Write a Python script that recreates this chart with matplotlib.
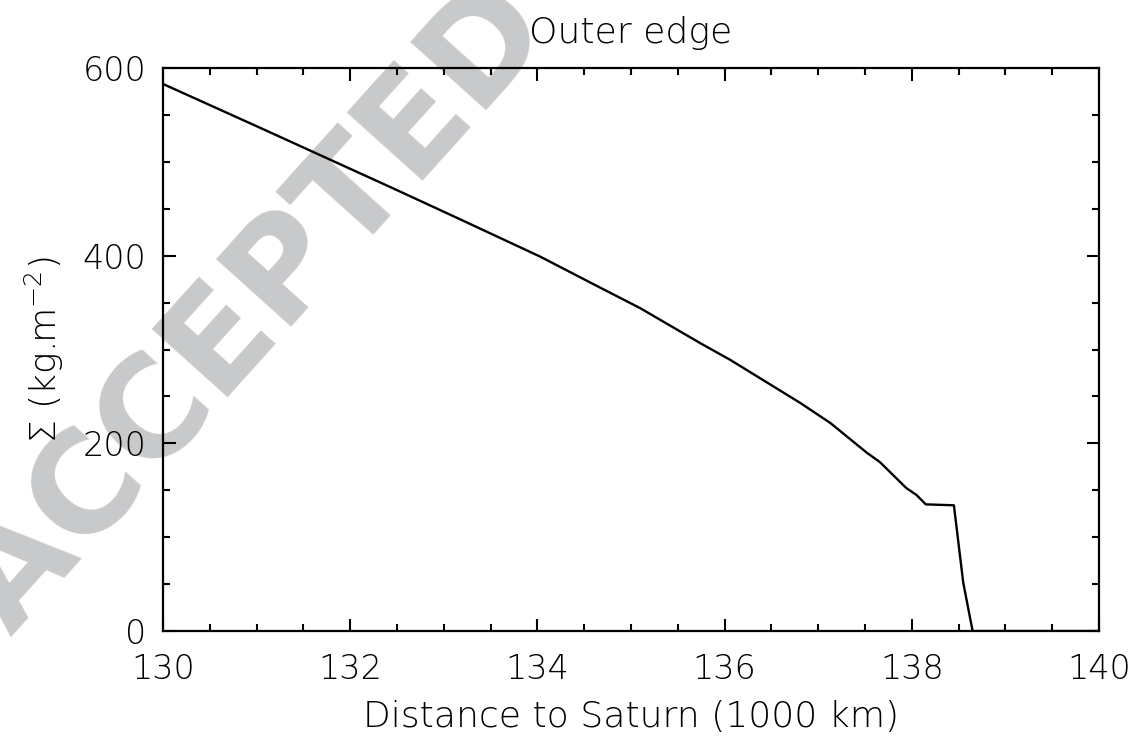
import matplotlib
matplotlib.use("Agg")
import matplotlib.pyplot as plt
from matplotlib.ticker import MultipleLocator

# Surface density profile near the outer edge
distance = [130.0, 131.0, 132.46, 133.2, 134.03, 134.67, 135.10, 135.74, 136.06,
            136.81, 137.13, 137.52, 137.66, 137.94, 138.05, 138.15, 138.45,
            138.55, 138.65, 140.0]
sigma = [583, 538, 471.7, 437.6, 399, 366, 344, 306.8, 289,
         243, 221.7, 190, 180, 152.5, 145, 135, 134,
         51.5, 0, 0]

x_ticks = [130, 132, 134, 136, 138, 140]
y_ticks = [0, 200, 400, 600]

plt.rcParams['font.family'] = ['DejaVu Sans']
plt.rcParams['font.weight'] = 'light'
plt.rcParams['axes.titleweight'] = 'light'
plt.rcParams['axes.labelweight'] = 'light'

fig = plt.figure(figsize=(11.36, 7.41), dpi=100)
ax = fig.add_axes([0.1435, 0.1484, 0.8239, 0.7598])
ax.patch.set_alpha(0)
ax.set_zorder(2)

# watermark behind the plot
fig.text(0.01, 0.14, 'ACCEPTED MANUSCRIPT', fontsize=100, fontweight='bold',
         color='#c8c9cb', rotation=48, rotation_mode='anchor',
         ha='left', va='baseline', zorder=0, family='DejaVu Sans')

ax.plot(distance, sigma, color='black', lw=1.7, zorder=3)

ax.set_xlim(130, 140)
ax.set_ylim(0, 600)
ax.set_xticks(x_ticks)
ax.set_yticks(y_ticks)
ax.xaxis.set_minor_locator(MultipleLocator(0.5))
ax.yaxis.set_minor_locator(MultipleLocator(50))
ax.tick_params(which='both', direction='in', top=True, right=True, width=1.5)
ax.tick_params(which='major', length=9)
ax.tick_params(which='minor', length=5)
ax.tick_params(axis='x', which='major', pad=16, labelsize=24)
ax.tick_params(axis='y', which='major', pad=12, labelsize=24)
for s in ax.spines.values():
    s.set_linewidth(1.6)

ax.set_title('Outer edge', fontsize=26, pad=18)
ax.set_xlabel('Distance to Saturn (1000 km)', fontsize=26, labelpad=10)
ax.set_ylabel(r'$\Sigma$ (kg.m$^{-2}$)', fontsize=26, labelpad=12)

fig.savefig('out.png', dpi=100)
